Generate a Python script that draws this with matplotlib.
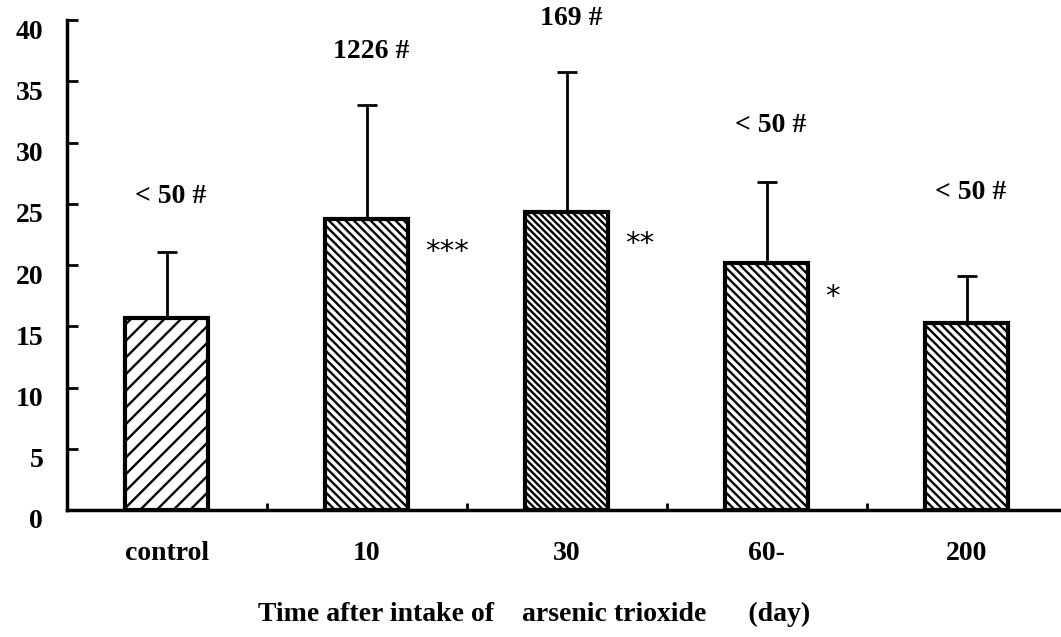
import matplotlib
matplotlib.use("Agg")
import matplotlib.pyplot as plt
import matplotlib.transforms as mtrans

plt.rcParams['font.family'] = ['Liberation Serif', 'DejaVu Serif']
plt.rcParams['hatch.linewidth'] = 1.7

categories = ['control', '10', '30', '60-', '200']
means = [15.7, 23.8, 24.3, 20.2, 15.3]
upper_err = [5.4, 9.3, 11.5, 6.6, 3.8]
hatches = ['//', '\\' * 4, '\\' * 5, '\\' * 4, '\\' * 4]
top_labels = ['< 50 #', '1226 #', '169 #', '< 50 #', '< 50 #']
top_label_y = [25.6, 37.4, 40.1, 31.4, 25.9]
stars = ['', '***', '**', '*', '']
star_y = [0, 21.1, 21.7, 17.4, 0]

fig = plt.figure(figsize=(10.61, 6.37), dpi=100)
ax = fig.add_axes([0.063, 0.1994, 0.9425, 0.769])

x = list(range(len(categories)))
ax.bar(x, means, width=0.415, color='white', edgecolor='black',
       linewidth=3, hatch=hatches, zorder=2)
ax.errorbar(x, means, yerr=[[0] * len(x), upper_err], fmt='none',
            ecolor='black', elinewidth=2, capsize=7, capthick=2, zorder=1)

for i in x:
    ax.text(i + 0.02, top_label_y[i], top_labels[i], ha='center', va='center',
            fontsize=20, fontweight='bold', clip_on=False)
    if stars[i]:
        ax.text(i + 0.29, star_y[i], stars[i], ha='left', va='center',
                fontsize=21, family=['DejaVu Sans'])

ax.set_xlim(-0.5, 4.5)
ax.set_ylim(0, 40)
ax.set_yticks(range(0, 41, 5))
ax.set_xticks(x)
ax.set_xticklabels(categories)
ax.set_xticks([0.5, 1.5, 2.5, 3.5], minor=True)
ax.tick_params(axis='y', direction='in', length=8, width=2, labelsize=20, pad=17)
ax.tick_params(axis='x', which='major', length=0, labelsize=20, pad=22)
ax.tick_params(axis='x', which='minor', direction='in', length=5, width=2)
shift = mtrans.ScaledTranslation(0, -0.09, fig.dpi_scale_trans)
for lab in ax.get_yticklabels():
    lab.set_fontweight('bold')
    lab.set_transform(lab.get_transform() + shift)
for lab in ax.get_xticklabels():
    lab.set_fontweight('bold')

for s in ['top', 'right']:
    ax.spines[s].set_visible(False)
for s in ['left', 'bottom']:
    ax.spines[s].set_linewidth(2.5)

ax.set_xlabel('Time after intake of    arsenic trioxide      (day)',
              fontsize=20, fontweight='bold')
ax.xaxis.set_label_coords(0.467, -0.188)

fig.savefig('out.png', dpi=100)
